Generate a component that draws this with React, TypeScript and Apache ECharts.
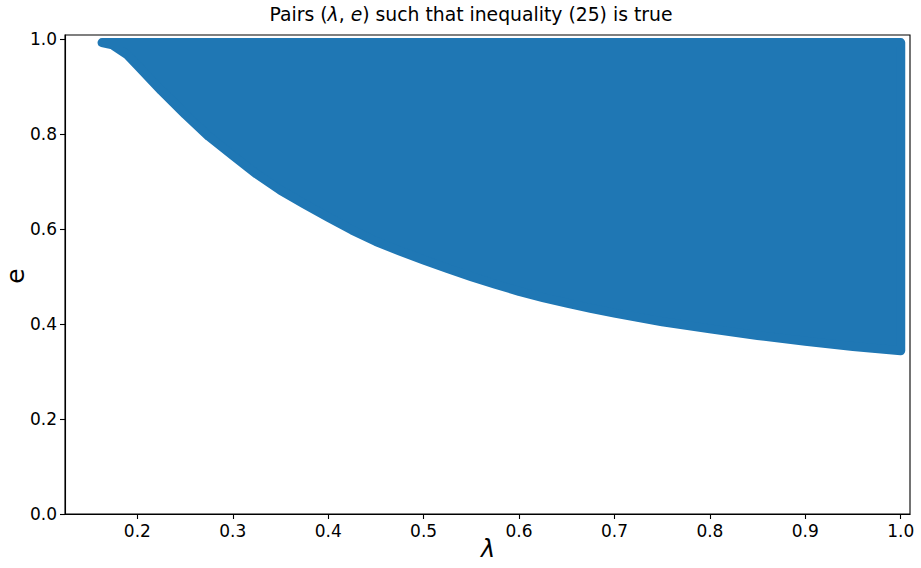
import React, { useEffect, useRef } from "react";
import * as echarts from "echarts";

// Lower boundary of the region (dot centres)
const LAMBDA = [0.163, 0.174, 0.189, 0.200, 0.225, 0.250, 0.275, 0.300, 0.325, 0.350, 0.375, 0.400, 0.425, 0.450, 0.475, 0.500, 0.525, 0.550, 0.575, 0.600, 0.625, 0.650, 0.675, 0.700, 0.750, 0.800, 0.850, 0.900, 0.950, 1.000];
const E_MIN = [0.993, 0.988, 0.968, 0.945, 0.892, 0.842, 0.795, 0.755, 0.716, 0.682, 0.653, 0.625, 0.598, 0.574, 0.554, 0.535, 0.517, 0.500, 0.484, 0.469, 0.456, 0.444, 0.433, 0.423, 0.405, 0.390, 0.376, 0.364, 0.353, 0.344];
const E_MAX = 0.993;

const X_TICKS = [0.2, 0.3, 0.4, 0.5, 0.6, 0.7, 0.8, 0.9, 1.0];
const Y_TICKS = [0.0, 0.2, 0.4, 0.6, 0.8, 1.0];

const FONT = "DejaVu Sans";
const BLUE = "#1f77b4";

export default function App() {
  const ref = useRef<HTMLDivElement>(null);
  useEffect(() => {
    if (!ref.current) return;
    const chart = echarts.init(ref.current, null, { renderer: "svg" });
    const axisCommon = {
      axisLine: { show: true, lineStyle: { color: "#000", width: 1.1 } },
      axisTick: { show: true, length: 5, lineStyle: { color: "#000", width: 1.1 } },
      splitLine: { show: false },
    };
    chart.setOption({
      animation: false,
      backgroundColor: "#fff",
      grid: {
        left: 65, right: 11, top: 35, bottom: 54,
        containLabel: false,
        outerBoundsMode: "none",
        show: true, borderColor: "#000", borderWidth: 1.1, backgroundColor: "transparent",
      },
      graphic: [
        {
          type: "text",
          x: 471,
          y: 14,
          style: {
            text: "{n|Pairs (}{i|λ}{n|, }{i|e}{n|) such that inequality (25) is true}",
            align: "center",
            verticalAlign: "middle",
            rich: {
              n: { fontFamily: FONT, fontSize: 18.8, fill: "#000" },
              i: { fontFamily: FONT, fontSize: 18.8, fontStyle: "italic", fill: "#000" },
            },
          },
        },
        {
          type: "text",
          x: 488,
          y: 549,
          style: {
            text: "λ",
            align: "center",
            verticalAlign: "middle",
            fontFamily: FONT,
            fontSize: 24,
            fontStyle: "italic",
            fill: "#000",
          },
        },
        {
          type: "text",
          x: 15,
          y: 276,
          rotation: Math.PI / 2,
          style: {
            text: "e",
            align: "center",
            verticalAlign: "middle",
            fontFamily: FONT,
            fontSize: 25,
            fill: "#000",
          },
        },
      ],
      xAxis: {
        type: "value",
        min: 0.1242,
        max: 1.0097,
        ...axisCommon,
        axisTick: { ...axisCommon.axisTick, customValues: X_TICKS },
        axisLabel: {
          customValues: X_TICKS,
          formatter: (v: number) => v.toFixed(1),
          fontFamily: FONT, fontSize: 17, color: "#000", margin: 8,
        },
      },
      yAxis: {
        type: "value",
        min: 0,
        max: 1.009,
        ...axisCommon,
        axisTick: { ...axisCommon.axisTick, customValues: Y_TICKS },
        axisLabel: {
          customValues: Y_TICKS,
          formatter: (v: number) => v.toFixed(1),
          fontFamily: FONT, fontSize: 17, color: "#000", margin: 8,
        },
      },
      series: [
        {
          type: "custom",
          data: LAMBDA.map((l, i) => [l, E_MIN[i]]),
          encode: { x: 0, y: 1 },
          renderItem: (params: any, api: any) => {
            if (params.dataIndex !== 0) return null;
            const pts = LAMBDA.map((l, i) => api.coord([l, E_MIN[i]]));
            pts.push(api.coord([LAMBDA[LAMBDA.length - 1], E_MAX]));
            pts.push(api.coord([LAMBDA[0], E_MAX]));
            return {
              type: "polygon",
              shape: { points: pts },
              style: { fill: BLUE, stroke: BLUE, lineWidth: 9, lineJoin: "round" },
            };
          },
        },
      ],
    });
    return () => chart.dispose();
  }, []);
  return (
    <div
      ref={ref}
      style={{ position: "fixed", left: 0, top: 0, width: 921, height: 568 }}
    />
  );
}
